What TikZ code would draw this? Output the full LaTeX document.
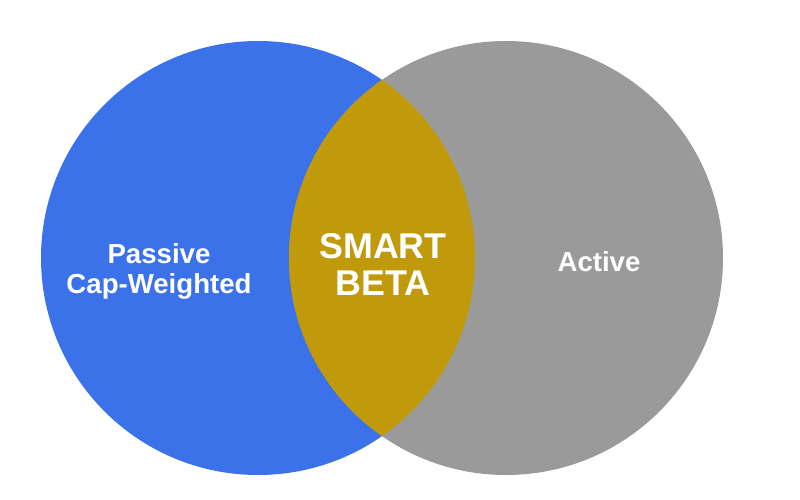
\documentclass[tikz,border=0pt]{standalone}
\usepackage{fontspec}
\setmainfont{Liberation Sans}
\definecolor{cblue}{RGB}{59,114,233}
\definecolor{cgray}{RGB}{154,154,154}
\definecolor{cgold}{RGB}{193,154,12}
\begin{document}
\begin{tikzpicture}[x=1pt,y=-1pt,
  lbl/.style={text=white,font=\bfseries\fontsize{27.6}{30}\selectfont,anchor=base,inner sep=0pt},
  big/.style={text=white,font=\bfseries\fontsize{35.8}{38}\selectfont,anchor=base,inner sep=0pt}]
\useasboundingbox (0,0) rectangle (800,500);
\coordinate (cl) at (258,258);
\coordinate (cr) at (506,258);
\fill[cblue] (cl) circle[radius=217];
\fill[cgray] (cr) circle[radius=217];
\begin{scope}
  \clip (cl) circle[radius=217];
  \fill[cgold] (cr) circle[radius=217];
\end{scope}
\node[lbl] (p1) at (159,263) {Passive};
\node[lbl] (p2) at (159,293) {Cap-Weighted};
\node[big] (s1) at (383,258) {SMART};
\node[big] (s2) at (383,295) {BETA};
\node[lbl] (a1) at (599,271) {Active};
\end{tikzpicture}
\end{document}
